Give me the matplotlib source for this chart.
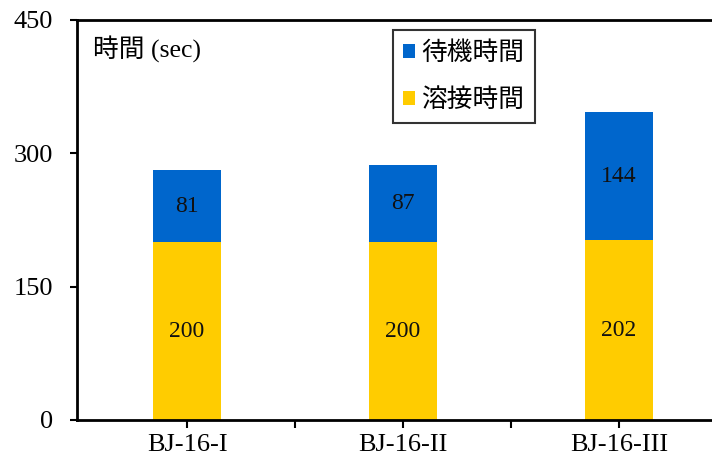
import numpy as np
import matplotlib.pyplot as plt
from matplotlib.patches import Patch

categories = ["BJ-16-I", "BJ-16-II", "BJ-16-III"]
weld_time = [200, 200, 202]   # 溶接時間
wait_time = [81, 87, 144]     # 待機時間
yticks = [0, 150, 300, 450]

BLUE = "#0066cc"
YELLOW = "#ffcc00"
SERIF = ["Liberation Serif", "Noto Sans CJK JP"]
JP = ["Noto Sans CJK JP", "DejaVu Sans"]


def main():
    fig = plt.figure(figsize=(7.12, 4.63), dpi=100)
    ax = fig.add_axes([0.108, 0.093, 0.892, 0.864])

    x = np.arange(len(categories))
    b1 = ax.bar(x, weld_time, width=0.315, color=YELLOW, edgecolor="none")
    b2 = ax.bar(x, wait_time, width=0.315, bottom=weld_time, color=BLUE,
                edgecolor="none")
    for bars in (b1, b2):
        ax.bar_label(bars, label_type="center", fontsize=17, family=SERIF,
                     color="#111111")

    ax.set_xlim(-0.51, 2.43)
    ax.set_ylim(0, 450)
    ax.set_yticks(yticks)
    ax.set_yticklabels([str(v) for v in yticks], family=SERIF, fontsize=19)
    ax.set_xticks(x)
    ax.set_xticklabels(categories, family=SERIF, fontsize=19)
    ax.set_xticks([0.5, 1.5], minor=True)
    ax.tick_params(axis="x", which="both", direction="out", length=6,
                   width=1.5, pad=4)
    ax.tick_params(axis="y", direction="out", length=5, width=1.5, pad=12)

    for s in ("left", "bottom", "top"):
        ax.spines[s].set_linewidth(2)
    ax.spines["right"].set_visible(False)

    ax.text(0.025, 0.96, "時間 (sec)", transform=ax.transAxes, ha="left",
            va="top", fontsize=18.5, family=SERIF)

    handles = [Patch(facecolor=BLUE), Patch(facecolor=YELLOW)]
    leg = fig.legend(handles, ["待機時間", "溶接時間"], loc="upper left",
                     bbox_to_anchor=(393 / 712, 1 - 30 / 463),
                     prop={"family": JP, "size": 18.5}, fancybox=False,
                     edgecolor="black", handlelength=0.45, handleheight=0.45,
                     handletextpad=0.25, labelspacing=0.8, borderpad=0.4,
                     borderaxespad=0)
    leg.get_frame().set_linewidth(1.5)

    fig.savefig("out.png", dpi=100)
    return 0


if __name__ == "__main__":
    exit(main())
